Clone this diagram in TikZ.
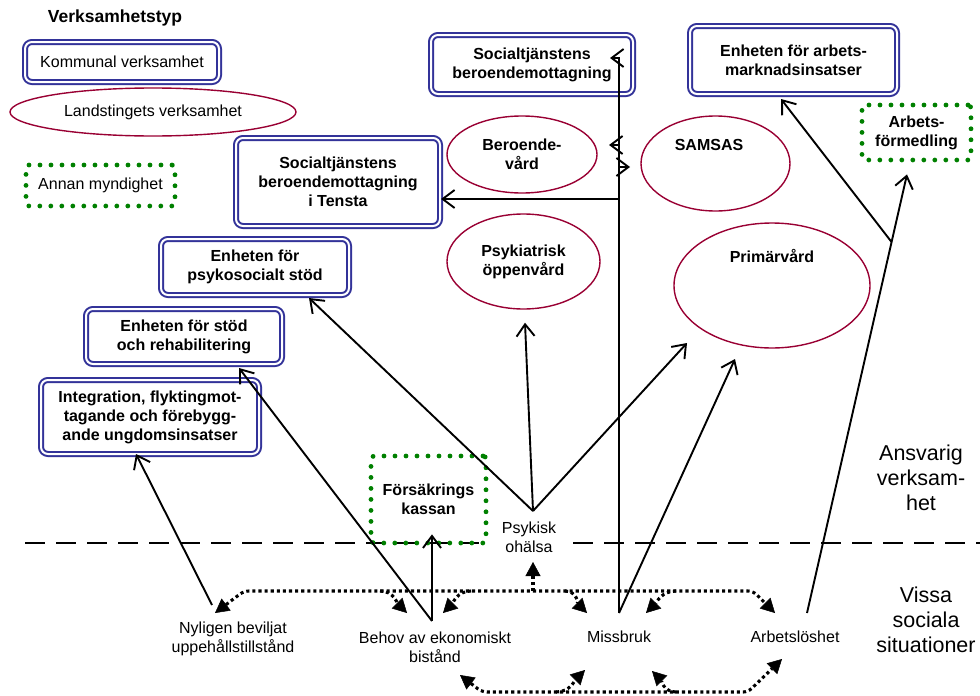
\documentclass[tikz,border=0pt]{standalone}
\usepackage{fontspec}
\setmainfont{Liberation Sans}
\usetikzlibrary{arrows.meta,shapes.geometric,calc}
\definecolor{kblue}{RGB}{51,51,153}
\definecolor{lred}{RGB}{153,0,51}
\definecolor{mgreen}{RGB}{0,128,0}
\newcommand{\dgfont}{\fontsize{16}{19}\selectfont}
\newcommand{\dgbig}{\fontsize{21.5}{25}\selectfont}
\begin{document}
\begin{tikzpicture}[x=1pt,y=-1pt,
  kbox/.style={draw=kblue,double=white,double distance=2pt,line width=2pt,rounded corners=7pt,align=center,inner sep=0pt,font=\dgfont\bfseries},
  lell/.style={draw=lred,ellipse,line width=1.4pt,inner sep=0pt,align=center,font=\dgfont\bfseries},
  gbox/.style={draw=mgreen,line width=4.8pt,dash pattern=on 0pt off 11pt,line cap=round,rounded corners=3pt,align=center,inner sep=0pt,font=\dgfont\bfseries},
  lbl/.style={align=center,inner sep=0pt,font=\dgfont},
  conn/.style={line width=1.9pt,-{Straight Barb[length=12pt,width=18pt]}},
  dots/.style={line width=3.1pt,dash pattern=on 3.1pt off 3pt},
  dboth/.style={dots,{Triangle[length=14pt,width=15pt,line width=0.5pt]}-{Triangle[length=14pt,width=15pt,line width=0.5pt]}},
  dend/.style={dots,-{Triangle[length=14pt,width=15pt,line width=0.5pt]}}
]
\useasboundingbox (0,0) rectangle (980,696);

% divider
\draw[line width=2.4pt,dash pattern=on 20pt off 11pt] (25,543) -- (489,543);
\draw[line width=2.4pt,dash pattern=on 20pt off 11pt] (573,543) -- (980,543);

% legend
\node[font=\fontsize{17.5}{20}\selectfont\bfseries] (title) at (115,18) {Verksamhetstyp};
\node[kbox,font=\dgfont,minimum width=194pt,minimum height=40pt] (kommunal) at (122,62) {Kommunal verksamhet};
\node[lell,font=\dgfont,minimum width=286pt,minimum height=48pt] (landst) at (153,112) {Landstingets verksamhet};
\node[gbox,font=\dgfont,minimum width=149pt,minimum height=41pt] (annan) at (100.5,185.5) {Annan myndighet};

% boxes
\node[kbox,minimum width=202pt,minimum height=59pt] (soctj) at (532,64.5) {Socialtjänstens\\beroendemottagning};
\node[kbox,minimum width=207pt,minimum height=68pt] (arbmark) at (793.5,60) {Enheten för arbets-\\marknadsinsatser};
\node[gbox,minimum width=109pt,minimum height=55pt] (arbform) at (916.5,132.5) {Arbets-\\förmedling};
\node[kbox,minimum width=204pt,minimum height=88pt] (tensta) at (338,182) {Socialtjänstens\\beroendemottagning\\i Tensta};
\node[kbox,minimum width=188pt,minimum height=56pt] (psyko) at (255,267) {Enheten för\\psykosocialt stöd};
\node[kbox,minimum width=196pt,minimum height=55pt] (stod) at (184,336.5) {Enheten för stöd\\och rehabilitering};
\node[kbox,minimum width=218pt,minimum height=74pt] (integ) at (150,417) {Integration, flyktingmot-\\tagande och förebygg-\\ande ungdomsinsatser};
\node[gbox,minimum width=115pt,minimum height=87pt] (fk) at (428.5,499.5) {Försäkrings\\kassan};

% ellipses
\node[lell,minimum width=150pt,minimum height=77pt] (berv) at (522,154.5) {Beroende-\\vård};
\node[lell,minimum width=149pt,minimum height=95pt] (samsas) at (715.5,163.5) {};
\node[font=\dgfont\bfseries] (samsastext) at (709,145) {SAMSAS};
\node[lell,minimum width=153pt,minimum height=95pt] (psykiat) at (523.5,261.5) {Psykiatrisk\\öppenvård};
\node[lell,minimum width=196pt,minimum height=125pt] (primar) at (772,285.5) {};
\node[font=\dgfont\bfseries] (primartext) at (772,256) {Primärvård};

% situation labels
\node[lbl] (psyk) at (529,537) {Psykisk\\ohälsa};
\node[lbl] (nyl) at (233,639) {Nyligen beviljat\\uppehållstillstånd};
\node[lbl] (behov) at (435,647) {Behov av ekonomiskt\\bistånd};
\node[lbl] (missbruk) at (619,637) {Missbruk};
\node[lbl] (arbl) at (795,637) {Arbetslöshet};
\node[lbl,font=\dgbig] (ansvar) at (921,478) {Ansvarig\\verksam-\\het};
\node[lbl,font=\dgbig] (vissa) at (926,620) {Vissa\\sociala\\situationer};

% hubs
\coordinate (N) at (212,605);
\coordinate (B) at (432,621);
\coordinate (M) at (619,613);
\coordinate (A) at (807,613);
\coordinate (P) at (533,511);

% connectors
\draw[conn] (N) -- ([xshift=-14pt,yshift=1pt]integ.south);
\draw[conn] (B) -- ([xshift=55pt,yshift=-3pt]stod.south);
\draw[conn] (B) -- ([xshift=3.5pt,yshift=11pt]fk.south);
\draw[conn] (P) -- ([xshift=54pt,yshift=-2pt]psyko.south);
\draw[conn] (P) -- ([xshift=1.5pt,yshift=-13pt]psykiat.south);
\draw[conn] (P) -- ([xshift=-85pt,yshift=-57.5pt]primar.center);
\draw[conn] (M) -- ([xshift=-37pt,yshift=-73.5pt]primar.center);
\draw[conn] (M) |- ([xshift=78pt,yshift=6.5pt]soctj.center);
\coordinate (bt) at ([xshift=87pt,yshift=9.5pt]berv.center);
\draw[conn] (M |- bt) -- (bt);
\coordinate (st) at ([xshift=-85.5pt,yshift=-3.5pt]samsas.center);
\draw[conn] (M |- st) -- (st);
\coordinate (tt) at ([yshift=-17pt]tensta.east);
\draw[conn] (M |- tt) -- (tt);
\coordinate (af) at ([xshift=-9.5pt,yshift=-12pt]arbform.south);
\draw[conn] (A) -- (af);
\coordinate (Q) at ($(A)!0.8458!(af)$);
\draw[conn] (Q) -- ([xshift=-12.5pt,yshift=-4pt]arbmark.south);

% dotted interrelations (top)
\draw[dboth,rounded corners=5pt] (215,613) -- (244,591) -- (753,591) -- (775,613);
\draw[dend] (380,591) to[out=0,in=135] (407,613);
\draw[dend] (471,591) to[out=180,in=45] (443,613);
\draw[dend] (533,591) -- (533,562);
\draw[dend] (565,591) to[out=0,in=135] (587,613);
\draw[dend] (676,591) to[out=180,in=45] (646,613);
% dotted interrelations (bottom)
\draw[dboth,rounded corners=5pt] (460,675) -- (482,692) -- (748,692) -- (782,659);
\draw[dend] (556,692) to[out=0,in=225] (585,670);
\draw[dend] (676,692) to[out=180,in=-45] (652,671);
\end{tikzpicture}
\end{document}
